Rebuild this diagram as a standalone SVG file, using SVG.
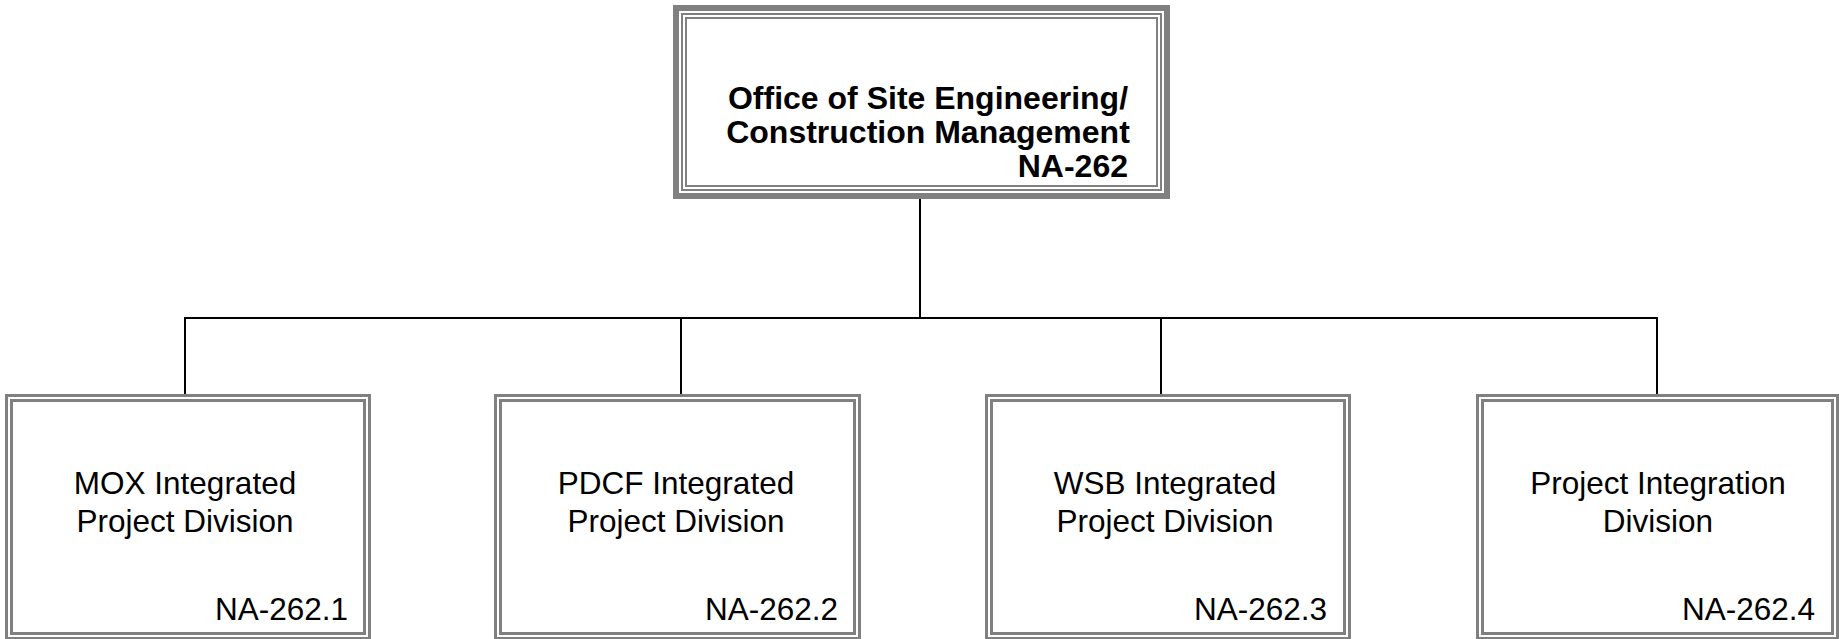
<svg xmlns="http://www.w3.org/2000/svg" width="1839" height="639" viewBox="0 0 1839 639">
<style>
.bg{fill:#ffffff}
.frame{fill:none;stroke:#808080}
.conn{fill:none;stroke:#000000;stroke-width:2}
.t{font-family:"Liberation Sans",Arial,sans-serif;fill:#000000}
.tb{font-family:"Liberation Sans",Arial,sans-serif;font-weight:bold;font-size:32px;fill:#000000}
.tn{font-size:31.5px}
</style>
<rect class="bg" x="0" y="0" width="1839" height="639"/>
<g id="connectors">
<line class="conn" x1="920" y1="199" x2="920" y2="318"/>
<line class="conn" x1="184" y1="318" x2="1658" y2="318"/>
<line class="conn" x1="185" y1="318" x2="185" y2="394"/>
<line class="conn" x1="681" y1="318" x2="681" y2="394"/>
<line class="conn" x1="1161" y1="318" x2="1161" y2="394"/>
<line class="conn" x1="1657" y1="318" x2="1657" y2="394"/>
</g>
<g id="node-na262">
<rect x="676" y="8" width="491" height="188" fill="#ffffff" class="frame" stroke-width="6"/>
<rect class="frame" x="682" y="14" width="479" height="176" stroke-width="2"/>
<rect class="frame" x="686" y="18" width="471" height="168" stroke-width="2"/>
<text class="tb" x="928" y="109" text-anchor="middle">Office of Site Engineering/</text>
<text class="tb" x="928" y="143" text-anchor="middle">Construction Management</text>
<text class="tb" x="1128" y="177" text-anchor="end">NA-262</text>
</g>
<g id="node-na262-1">
<rect class="frame" x="6.5" y="395.5" width="363" height="243" stroke-width="3" fill="#ffffff"/>
<rect class="frame" x="11.5" y="400.5" width="353" height="233" stroke-width="3"/>
<text class="t tn" x="185" y="494" text-anchor="middle">MOX Integrated</text>
<text class="t tn" x="185" y="532" text-anchor="middle">Project Division</text>
<text class="t tn" x="348" y="620" text-anchor="end">NA-262.1</text>
</g>
<g id="node-na262-2">
<rect class="frame" x="495.5" y="395.5" width="364" height="243" stroke-width="3" fill="#ffffff"/>
<rect class="frame" x="500.5" y="400.5" width="354" height="233" stroke-width="3"/>
<text class="t tn" x="676" y="494" text-anchor="middle">PDCF Integrated</text>
<text class="t tn" x="676" y="532" text-anchor="middle">Project Division</text>
<text class="t tn" x="838" y="620" text-anchor="end">NA-262.2</text>
</g>
<g id="node-na262-3">
<rect class="frame" x="986.5" y="395.5" width="363" height="243" stroke-width="3" fill="#ffffff"/>
<rect class="frame" x="991.5" y="400.5" width="353" height="233" stroke-width="3"/>
<text class="t tn" x="1165" y="494" text-anchor="middle">WSB Integrated</text>
<text class="t tn" x="1165" y="532" text-anchor="middle">Project Division</text>
<text class="t tn" x="1327" y="620" text-anchor="end">NA-262.3</text>
</g>
<g id="node-na262-4">
<rect class="frame" x="1477.5" y="395.5" width="360" height="243" stroke-width="3" fill="#ffffff"/>
<rect class="frame" x="1482.5" y="400.5" width="350" height="233" stroke-width="3"/>
<text class="t tn" x="1658" y="494" text-anchor="middle">Project Integration</text>
<text class="t tn" x="1658" y="532" text-anchor="middle">Division</text>
<text class="t tn" x="1815" y="620" text-anchor="end">NA-262.4</text>
</g>
</svg>
